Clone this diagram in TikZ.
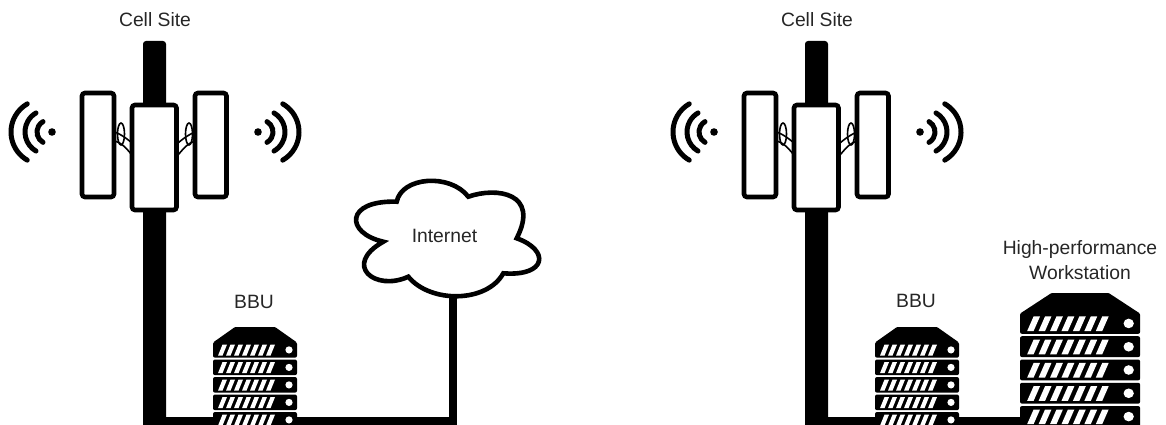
\documentclass[tikz,border=0pt]{standalone}
\usepackage{fontspec}
\setmainfont{Liberation Sans}
\usepackage{tikz}

\tikzset{
  panel/.style={draw, line width=4.6pt, rounded corners=3pt, fill=white},
  wave/.style={draw, line width=5pt, line cap=round},
  hinge/.style={draw, line width=1.6pt},
  link/.style={draw, line width=8pt},
  label/.style={font=\fontsize{19.3}{25}\selectfont, align=center, text=black!85},
  tower/.pic={
    % Mast
    \fill[rounded corners=3pt] (143,41) rectangle (166,432);
    \coordinate (-foot) at (154.5,421);
    \node[label] (-name) at (155,20) {Cell Site};
    % Hinges
    \foreach \mx/\sx in {0/1,310/-1}{
      \draw[hinge] (\mx+\sx*121,134) ellipse (3.5 and 11);
      \draw[hinge] (\mx+\sx*115,132) .. controls (\mx+\sx*122,135) and (\mx+\sx*126,138) .. (\mx+\sx*132,143);
      \draw[hinge] (\mx+\sx*115,141) .. controls (\mx+\sx*122,143) and (\mx+\sx*126,148) .. (\mx+\sx*132,155);
    }
    % Panels
    \path[panel] (82,93) rectangle (114,197);
    \path[panel] (195,93) rectangle (226.5,197);
    \path[panel] (132,105) rectangle (176.5,210);
    % Signal
    \fill (52,132) circle (3.8);
    \fill (258,132) circle (3.8);
    \foreach \cx/\rr in {43.5/32.5,47/22,49/12}{
      \path[wave] (\cx,132) ++(120:\rr) arc (120:240:\rr);
      \path[wave] (310-\cx,132) ++(-60:\rr) arc (-60:60:\rr);
    }
  },
  rack/.pic={
    \coordinate (-west) at (0,94);
    \fill[rounded corners=1pt] (0,15.5) -- (22,0) -- (62,0) -- (84,15.5) -- cycle;
    \foreach \row in {0,...,4}{
      \begin{scope}[shift={(0,15+17.5*\row)}]
        \fill[rounded corners=2pt] (0,0) rectangle (84,15.7);
        \foreach \col in {0,...,6}
          \fill[white] (5+8*\col,13.6) -- (9.5+8*\col,13.6) -- (14+8*\col,2.6) -- (9.5+8*\col,2.6) -- cycle;
        \fill[white] (76,7.9) circle (3.6);
      \end{scope}
    }
  }
}

\begin{document}
\begin{tikzpicture}[x=1pt, y=-1pt]
  \useasboundingbox (0,0) rectangle (1166,425);
  \clip (0,0) rectangle (1166,425);

  % Left site
  \pic (sitea) at (0,0) {tower};

  % Cloud
  \path[panel, rounded corners=0pt] (383.3,241.7)
    .. controls (345,233) and (345,200) .. (396.7,201.7)
    .. controls (401.7,176.7) and (450,173) .. (468.3,196.7)
    .. controls (496.7,186.7) and (540,193) .. (516.7,238.3)
    .. controls (550,250) and (547,276.7) .. (503.3,273.3)
    .. controls (486.7,303.3) and (430,303.3) .. (408.3,276.7)
    .. controls (375,292) and (342,265) .. (383.3,241.7) -- cycle;
  \node[label] (internet) at (444.5,235.5) {Internet};
  \coordinate (cloudbase) at (453,296);

  % Left links and BBU
  \draw[link] (sitea-foot) -| (cloudbase);
  \pic (bbua) at (213,327) {rack};
  \node[label] (bbualabel) at (254,302) {BBU};

  % Right site
  \pic (siteb) at (662,0) {tower};
  \pic (wstn) [xscale=1.43, yscale=1.33] at (1020,293) {rack};
  \draw[link] (siteb-foot) -- (siteb-foot -| wstn-west);
  \pic (bbub) at (875,327) {rack};
  \node[label] (bbublabel) at (916,301) {BBU};
  \node[label] (wstnlabel) at (1080,260) {High-performance \\ Workstation};

\end{tikzpicture}
\end{document}
